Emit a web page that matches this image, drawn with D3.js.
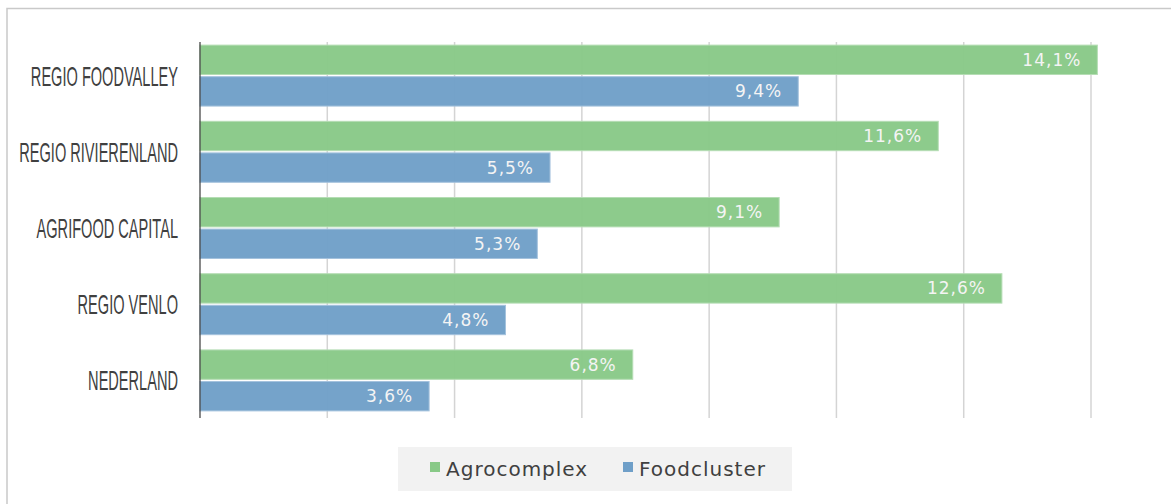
<!DOCTYPE html>
<html>
<head>
<meta charset="utf-8">
<script src="https://cdn.jsdelivr.net/npm/d3@7"></script>
<style>
  body { margin: 0; background: #fff; }
</style>
</head>
<body>
<div id="main"></div>
<script>
const regions = ["REGIO FOODVALLEY", "REGIO RIVIERENLAND", "AGRIFOOD CAPITAL", "REGIO VENLO", "NEDERLAND"];
const agrocomplex = [14.1, 11.6, 9.1, 12.6, 6.8];
const foodcluster = [9.4, 5.5, 5.3, 4.8, 3.6];
const seriesNames = ["Agrocomplex", "Foodcluster"];
const xTicks = [0, 2, 4, 6, 8, 10, 12, 14];

const colors = {Agrocomplex: "#88c987", Foodcluster: "#6f9fc8"};
const strokes = {Agrocomplex: "#b5ddb4", Foodcluster: "#a4c2dd"};

let W = 1171, H = 504;
let plotTop = 42, plotBottom = 418;

let svg = d3.select("#main")
	.append("svg")
		.attr("width", W)
		.attr("height", H);

// outer frame
svg.append("rect")
	.attr("x", 7).attr("y", 8.5)
	.attr("width", W).attr("height", H)
	.attr("fill", "none")
	.attr("stroke", "#c9c9c9")
	.attr("stroke-width", 1.5);

let x = d3.scaleLinear()
	.domain([0, 14])
	.range([200, 1091]);

let y = d3.scaleBand()
	.domain(regions)
	.range([plotTop - 2, plotBottom - 2])
	.paddingInner(0.2)
	.paddingOuter(0.067);

let ySub = d3.scaleBand()
	.domain(seriesNames)
	.range([0, y.bandwidth()])
	.paddingInner(0.07);

// gridlines
svg.append("g")
	.selectAll("line")
	.data(xTicks.slice(1))
	.enter()
	.append("line")
		.attr("x1", d => x(d)).attr("x2", d => x(d))
		.attr("y1", plotTop).attr("y2", plotBottom)
		.attr("stroke", "#d4d4d4")
		.attr("stroke-width", 1.5);

const rows = regions.map((r, i) => ({region: r, values: [
	{name: "Agrocomplex", v: agrocomplex[i]},
	{name: "Foodcluster", v: foodcluster[i]}
]}));

let groups = svg.append("g")
	.selectAll("g")
	.data(rows)
	.enter()
	.append("g")
		.attr("transform", d => `translate(0,${y(d.region)})`);

groups.selectAll("rect")
	.data(d => d.values)
	.enter()
	.append("rect")
		.attr("x", x(0))
		.attr("y", d => ySub(d.name))
		.attr("width", d => x(d.v) - x(0))
		.attr("height", ySub.bandwidth())
		.attr("fill", d => colors[d.name])
		.attr("fill-opacity", 0.96)
		.attr("stroke", d => strokes[d.name])
		.attr("stroke-width", 1);

groups.selectAll("text")
	.data(d => d.values)
	.enter()
	.append("text")
		.attr("x", d => x(d.v) - 16)
		.attr("y", d => ySub(d.name) + ySub.bandwidth() / 2 + 6)
		.attr("text-anchor", "end")
		.attr("font-family", "'DejaVu Sans', sans-serif")
		.attr("font-size", 17)
		.attr("letter-spacing", 1)
		.attr("fill", "#f4f4f4")
		.text(d => d.v.toFixed(1).replace(".", ",") + "%");

// y axis line
svg.append("line")
	.attr("x1", x(0)).attr("x2", x(0))
	.attr("y1", plotTop).attr("y2", plotBottom)
	.attr("stroke", "#3a3a3a")
	.attr("stroke-width", 1.2);

// category labels (condensed)
svg.append("g")
	.selectAll("text")
	.data(regions)
	.enter()
	.append("text")
		.attr("transform", d => `translate(178,${y(d) + y.bandwidth() / 2 + 10}) scale(0.54,1)`)
		.attr("text-anchor", "end")
		.attr("font-family", "'Liberation Sans', sans-serif")
		.attr("font-size", 27)
		.attr("fill", "#404040")
		.text(d => d);

// legend
let legend = svg.append("g");
legend.append("rect")
	.attr("x", 398).attr("y", 447)
	.attr("width", 394).attr("height", 44)
	.attr("fill", "#f2f2f2");

const legendX = [430, 623];
seriesNames.forEach((s, i) => {
	legend.append("rect")
		.attr("x", legendX[i]).attr("y", 462)
		.attr("width", 10).attr("height", 10)
		.attr("fill", colors[s]);
	legend.append("text")
		.attr("x", legendX[i] + 16).attr("y", 476)
		.attr("font-family", "'DejaVu Sans', sans-serif")
		.attr("font-size", 20)
		.attr("letter-spacing", 1)
		.attr("fill", "#404040")
		.text(s);
});
</script>
</body>
</html>
